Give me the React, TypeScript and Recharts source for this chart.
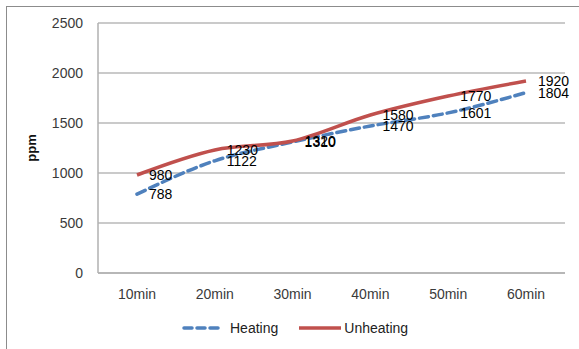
import React from "react";
import {
  LineChart,
  Line,
  XAxis,
  YAxis,
  CartesianGrid,
  LabelList,
  Label,
} from "recharts";

// Sampling times along the x axis
const times = ["10min", "20min", "30min", "40min", "50min", "60min"];
// Concentration readings (ppm)
const heating = [788, 1122, 1310, 1470, 1601, 1804];
const unheating = [980, 1230, 1320, 1580, 1770, 1920];
// Y axis ticks
const yTicks = [0, 500, 1000, 1500, 2000, 2500];

const seriesNames = { heating: "Heating", unheating: "Unheating" };
const BLUE = "#4F81BD";
const RED = "#C0504D";
const FONT = "'Liberation Sans', Arial, sans-serif";

const data = times.map((t, i) => ({
  time: t,
  heating: heating[i],
  unheating: unheating[i],
}));

export default function App() {
  return (
    <div
      style={{
        position: "absolute",
        left: 0,
        top: 0,
        width: 579,
        height: 349,
        background: "#fff",
        fontFamily: FONT,
        overflow: "hidden",
      }}
    >
      {/* chart frame: top and left edges */}
      <div
        style={{
          position: "absolute",
          left: 6,
          top: 6,
          width: 600,
          height: 400,
          borderLeft: "1.5px solid #8c8c8c",
          borderTop: "1.5px solid #8c8c8c",
        }}
      />
      <div style={{ position: "absolute", left: 0, top: 0 }}>
        <LineChart
          width={579}
          height={349}
          data={data}
          margin={{ top: 23, right: 14, left: 0, bottom: 0 }}
        >
          <CartesianGrid
            horizontal
            vertical={false}
            stroke="#b8b8b8"
            strokeWidth={1.5}
          />
          <XAxis
            dataKey="time"
            height={76}
            padding={{ left: 39, right: 39 }}
            tickLine={false}
            tickSize={0}
            tickMargin={16}
            axisLine={{ stroke: "#b0b0b0", strokeWidth: 1.5 }}
            tick={{ fill: "#3a3a3a", fontSize: 14, fontFamily: FONT }}
          />
          <YAxis
            width={98}
            domain={[0, 2500]}
            ticks={yTicks}
            tickLine={false}
            tickSize={0}
            tickMargin={15}
            axisLine={{ stroke: "#b0b0b0", strokeWidth: 1.5 }}
            tick={{ fill: "#3a3a3a", fontSize: 14, fontFamily: FONT }}
          >
            <Label
              value="ppm"
              angle={-90}
              position="insideLeft"
              offset={31}
              style={{
                fontSize: 13,
                fontWeight: "bold",
                fill: "#111",
                fontFamily: FONT,
                textAnchor: "middle",
              }}
            />
          </YAxis>
          <Line
            type="monotone"
            dataKey="heating"
            name={seriesNames.heating}
            stroke={BLUE}
            strokeWidth={3.5}
            strokeDasharray="9 5"
            strokeLinecap="round"
            dot={false}
            isAnimationActive={false}
          >
            <LabelList
              dataKey="heating"
              position="right"
              offset={12}
              style={{ fill: "#000", fontSize: 14, fontFamily: FONT }}
            />
          </Line>
          <Line
            type="monotone"
            dataKey="unheating"
            name={seriesNames.unheating}
            stroke={RED}
            strokeWidth={3.5}
            dot={false}
            isAnimationActive={false}
          >
            <LabelList
              dataKey="unheating"
              position="right"
              offset={12}
              style={{ fill: "#000", fontSize: 14, fontFamily: FONT }}
            />
          </Line>
        </LineChart>
      </div>
      {/* legend */}
      <div
        style={{
          position: "absolute",
          left: 182,
          top: 318,
          height: 20,
          display: "flex",
          alignItems: "center",
          fontSize: 14,
          color: "#222",
        }}
      >
        <svg width={40} height={8} style={{ marginRight: 8 }}>
          <line
            x1={2}
            y1={4}
            x2={38}
            y2={4}
            stroke={BLUE}
            strokeWidth={3.5}
            strokeDasharray="8 5"
            strokeLinecap="round"
          />
        </svg>
        <span style={{ marginRight: 20 }}>{seriesNames.heating}</span>
        <svg width={44} height={8} style={{ marginRight: 2 }}>
          <line x1={1} y1={4} x2={43} y2={4} stroke={RED} strokeWidth={3.5} />
        </svg>
        <span>{seriesNames.unheating}</span>
      </div>
    </div>
  );
}
